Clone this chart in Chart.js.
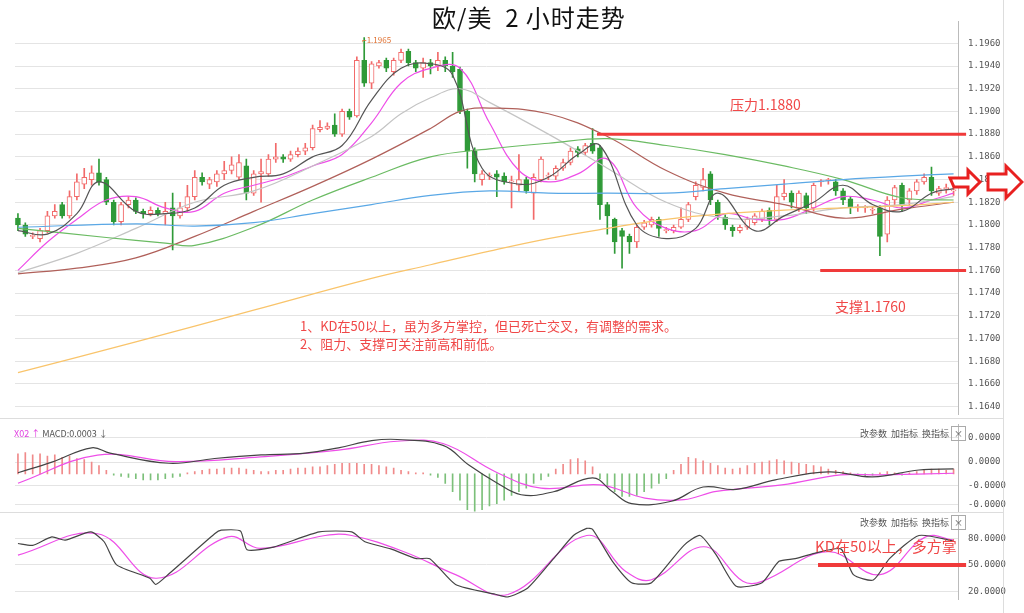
<!DOCTYPE html>
<html><head><meta charset="utf-8">
<script src="https://cdn.jsdelivr.net/npm/chart.js@4.4.1/dist/chart.umd.min.js"></script>
<style>
body{margin:0;background:#fff;width:1024px;height:613px;overflow:hidden;position:relative;font-family:"Noto Sans CJK SC","Noto Sans",sans-serif}
canvas{position:absolute;left:0}
.t{position:absolute;white-space:nowrap}
.red{color:#f04848}
.hd{position:absolute;font-size:9px;color:#555}
</style></head><body>
<canvas id="main" style="top:6px" width="1024" height="424"></canvas>
<canvas id="macd" style="top:409px" width="1024" height="118"></canvas>
<canvas id="kd" style="top:500px" width="1024" height="115"></canvas>
<div style="position:absolute;left:0;top:418px;width:1003px;border-top:1px solid #ddd"></div>
<div style="position:absolute;left:0;top:512px;width:1003px;border-top:1px solid #ddd"></div>
<div style="position:absolute;left:1003px;top:0;height:613px;border-left:1px solid #ddd"></div>
<div class="t" style="left:432px;top:-1px;font-size:24px;color:#111;letter-spacing:1px">欧/美&nbsp;&nbsp;2 小时走势</div>
<div class="t" style="left:362px;top:34px;font-size:8px;color:#e07030">⌐1.1965</div>
<div class="t red" style="left:730px;top:94px;font-size:14px">压力1.1880</div>
<div class="t red" style="left:835px;top:296px;font-size:14px">支撑1.1760</div>
<div class="t red" style="left:300px;top:316px;font-size:13px">1、KD在50以上，虽为多方掌控，但已死亡交叉，有调整的需求。</div>
<div class="t red" style="left:300px;top:334px;font-size:13px">2、阻力、支撑可关注前高和前低。</div>
<div class="t red" style="left:815px;top:535px;font-size:15px">KD在50以上，多方掌</div>
<div class="hd" style="left:14px;top:427px"><span style="color:#e040e0">X02 ↑</span> MACD:0.0003 ↓</div>
<div class="hd" style="left:860px;top:427px">改参数 &nbsp;加指标 &nbsp;换指标 <span style="border:1px solid #aaa;padding:0 2px">×</span></div>
<div class="hd" style="left:860px;top:516px">改参数 &nbsp;加指标 &nbsp;换指标 <span style="border:1px solid #aaa;padding:0 2px">×</span></div>
<svg style="position:absolute;left:948px;top:162px" width="76" height="40">
<polygon points="2,16 20,16 20,8 32,20 20,32 20,25 6,25" fill="#fff" stroke="#e82020" stroke-width="3"/>
<polygon points="40,12 58,12 58,4 74,20 58,36 58,28 40,28" fill="#fff" stroke="#e82020" stroke-width="3"/>
</svg>
<script>
// ---- candle data (index 0..127) ----
const open_ = [1.1806,1.1800,1.1790,1.1788,1.1795,1.1808,1.1818,1.1808,1.1825,1.1836,1.1840,1.1846,1.1840,1.1820,1.1803,1.1818,1.1822,1.1812,1.1810,1.1813,1.1810,1.1815,1.1808,1.1815,1.1825,1.1842,1.1836,1.1838,1.1845,1.1848,1.1842,1.1852,1.1828,1.1845,1.1845,1.1858,1.1860,1.1858,1.1862,1.1865,1.1868,1.1884,1.1885,1.1888,1.1880,1.1900,1.1896,1.1945,1.1925,1.1940,1.1945,1.1935,1.1945,1.1953,1.1943,1.1938,1.1943,1.1940,1.1945,1.1940,1.1937,1.1900,1.1865,1.1840,1.1843,1.1845,1.1843,1.1838,1.1835,1.1840,1.1828,1.1840,1.1843,1.1843,1.1850,1.1855,1.1867,1.1864,1.1872,1.1868,1.1818,1.1805,1.1795,1.1790,1.1785,1.1798,1.1800,1.1805,1.1795,1.1795,1.1798,1.1805,1.1825,1.1833,1.1845,1.1820,1.1807,1.1798,1.1795,1.1798,1.1802,1.1805,1.1813,1.1805,1.1825,1.1828,1.1815,1.1826,1.1815,1.1838,1.1839,1.1838,1.1830,1.1823,1.1815,1.1815,1.1813,1.1815,1.1792,1.1822,1.1835,1.1822,1.1830,1.1838,1.1842,1.1828,1.1832,1.1830];
const close_ = [1.1800,1.1792,1.1790,1.1795,1.1808,1.1812,1.1808,1.1825,1.1838,1.1842,1.1846,1.1838,1.1820,1.1803,1.1818,1.1822,1.1812,1.1810,1.1813,1.1810,1.1812,1.1808,1.1815,1.1825,1.1842,1.1838,1.1840,1.1845,1.1848,1.1853,1.1855,1.1828,1.1845,1.1847,1.1858,1.1860,1.1858,1.1862,1.1865,1.1868,1.1885,1.1886,1.1887,1.1880,1.1900,1.1895,1.1945,1.1925,1.1942,1.1943,1.1938,1.1945,1.1952,1.1943,1.1938,1.1943,1.1940,1.1945,1.1940,1.1935,1.1900,1.1865,1.1845,1.1845,1.1843,1.1842,1.1838,1.1838,1.1840,1.1830,1.1842,1.1858,1.1843,1.1850,1.1855,1.1865,1.1864,1.1870,1.1865,1.1818,1.1808,1.1785,1.1790,1.1785,1.1798,1.1802,1.1805,1.1797,1.1795,1.1798,1.1805,1.1818,1.1835,1.1840,1.1822,1.1808,1.1800,1.1795,1.1798,1.1805,1.1808,1.1812,1.1805,1.1825,1.1828,1.1820,1.1828,1.1815,1.1835,1.1838,1.1839,1.1830,1.1822,1.1816,1.1815,1.1815,1.1813,1.1790,1.1822,1.1833,1.1818,1.1830,1.1838,1.1842,1.1830,1.1832,1.1832,1.1830];
const high_ = [1.1810,1.1802,1.1793,1.1797,1.1812,1.1818,1.1820,1.1830,1.1845,1.1850,1.1852,1.1858,1.1842,1.1822,1.1820,1.1825,1.1824,1.1814,1.1816,1.1815,1.1820,1.1828,1.1820,1.1835,1.1848,1.1846,1.1842,1.1848,1.1856,1.1860,1.1862,1.1858,1.1848,1.1858,1.1862,1.1872,1.1862,1.1865,1.1868,1.1872,1.1888,1.1892,1.1890,1.1898,1.1902,1.1902,1.1948,1.1965,1.1944,1.1945,1.1947,1.1947,1.1955,1.1955,1.1945,1.1947,1.1946,1.1952,1.1948,1.1952,1.1939,1.1902,1.1868,1.1848,1.1846,1.1848,1.1846,1.1843,1.1862,1.1842,1.1845,1.1860,1.1846,1.1852,1.1858,1.1868,1.1869,1.1872,1.1885,1.1870,1.1820,1.1806,1.1797,1.1792,1.1800,1.1804,1.1807,1.1807,1.1798,1.1800,1.1815,1.1820,1.1838,1.1850,1.1847,1.1822,1.1809,1.1800,1.1800,1.1807,1.1810,1.1814,1.1815,1.1835,1.1840,1.1830,1.1830,1.1828,1.1837,1.1840,1.1841,1.1840,1.1832,1.1825,1.1818,1.1817,1.1816,1.1817,1.1825,1.1835,1.1837,1.1832,1.1840,1.1845,1.1851,1.1834,1.1836,1.1834];
const low_ = [1.1795,1.1790,1.1788,1.1785,1.1793,1.1806,1.1806,1.1806,1.1822,1.1832,1.1835,1.1835,1.1818,1.1800,1.1800,1.1815,1.1810,1.1806,1.1808,1.1808,1.1800,1.1778,1.1806,1.1812,1.1822,1.1835,1.1832,1.1834,1.1840,1.1845,1.1840,1.1822,1.1826,1.1820,1.1843,1.1855,1.1855,1.1856,1.1860,1.1862,1.1866,1.1882,1.1884,1.1878,1.1878,1.1893,1.1895,1.1922,1.1920,1.1938,1.1935,1.1932,1.1943,1.1940,1.1935,1.1930,1.1933,1.1936,1.1935,1.1930,1.1898,1.1850,1.1838,1.1835,1.1840,1.1825,1.1836,1.1815,1.1830,1.1828,1.1805,1.1838,1.1840,1.1840,1.1848,1.1853,1.1860,1.1862,1.1863,1.1805,1.1792,1.1775,1.1762,1.1775,1.1780,1.1796,1.1798,1.1790,1.1793,1.1793,1.1797,1.1803,1.1822,1.1830,1.1818,1.1805,1.1796,1.1790,1.1793,1.1796,1.1800,1.1803,1.1800,1.1803,1.1822,1.1815,1.1812,1.1810,1.1812,1.1834,1.1836,1.1826,1.1818,1.1810,1.1812,1.1811,1.1810,1.1773,1.1785,1.1818,1.1812,1.1818,1.1827,1.1836,1.1826,1.1826,1.1828,1.1826];
// ---- moving averages (knot index / value) ----
const ma5X = [0,4,8,11,16,20,24,28,32,36,40,44,48,52,56,59,63,68,72,76,79,84,88,92,95,100,104,108,112,116,120,124,127];
const ma5Y = [1.1795,1.1792,1.1810,1.1838,1.1812,1.1810,1.1815,1.1835,1.1842,1.1845,1.1860,1.1870,1.1910,1.1938,1.1942,1.1932,1.1850,1.1836,1.1842,1.1862,1.1870,1.1800,1.1788,1.1797,1.1828,1.1795,1.1808,1.1820,1.1835,1.1818,1.1812,1.1828,1.1832];
const ma10X = [0,4,8,12,16,20,24,28,32,36,40,44,48,52,56,60,64,68,72,76,80,84,88,92,96,100,104,108,112,116,120,124,127];
const ma10Y = [1.1760,1.1785,1.1805,1.1822,1.1825,1.1815,1.1812,1.1828,1.1835,1.1842,1.1852,1.1862,1.1890,1.1925,1.1938,1.1938,1.1890,1.1848,1.1838,1.1845,1.1858,1.1815,1.1797,1.1795,1.1810,1.1805,1.1805,1.1815,1.1825,1.1822,1.1815,1.1822,1.1828];
const ma20X = [0,8,16,24,32,40,48,52,56,60,64,72,80,88,96,104,112,120,127];
const ma20Y = [1.1758,1.1775,1.1797,1.1820,1.1830,1.1852,1.1878,1.1898,1.1912,1.1920,1.1908,1.1880,1.1850,1.1820,1.1806,1.1808,1.1815,1.1818,1.1825];
const ma30X = [0,8,16,24,32,40,48,56,60,64,72,80,88,96,104,112,120,127];
const ma30Y = [1.1757,1.1762,1.1771,1.1790,1.1812,1.1834,1.1858,1.1885,1.1900,1.1903,1.1898,1.1878,1.1848,1.1828,1.1818,1.1806,1.1814,1.1820];
const ma60X = [0,12,20,24,32,40,48,56,64,72,80,88,96,104,112,120,127];
const ma60Y = [1.1797,1.1789,1.1784,1.1782,1.1798,1.1822,1.1842,1.1860,1.1867,1.1872,1.1876,1.1870,1.1862,1.1852,1.1840,1.1824,1.1822];
const ma120X = [0,16,24,32,40,48,56,64,72,80,88,96,104,112,120,127];
const ma120Y = [1.1798,1.1801,1.1799,1.1802,1.1810,1.1818,1.1826,1.1830,1.1828,1.1828,1.1828,1.1832,1.1836,1.1840,1.1843,1.1845];
const ma250X = [0,16,32,48,56,64,72,80,88,96,104,112,120,127];
const ma250Y = [1.1670,1.1697,1.1725,1.1753,1.1765,1.1777,1.1788,1.1797,1.1805,1.1810,1.1813,1.1815,1.1817,1.1820];
const priceTicks = [1.1640,1.1660,1.1680,1.1700,1.1720,1.1740,1.1760,1.1780,1.1800,1.1820,1.1840,1.1860,1.1880,1.1900,1.1920,1.1940,1.1960];
const resistance = 1.1880, support = 1.1760;
// ---- MACD (x1e-4) ----
const macdHist = [17,18,16,17,15,16,14,15,13,12,10,7,3,-1,-2,-3,-4,-5,-5,-5,-4,-3,-2,1,2,3,4,4,5,5,5,4,3,2,2,3,3,4,5,5,6,6,7,8,9,9,9,8,8,7,6,5,3,2,1,1,-1,-3,-8,-15,-22,-30,-33,-30,-27,-25,-22,-18,-15,-12,-8,-5,-2,4,8,12,13,11,6,-4,-10,-15,-19,-19,-18,-15,-12,-8,-4,3,8,14,13,11,9,7,5,4,5,7,9,10,11,12,11,10,9,8,7,6,4,3,2,1,-1,-2,-1,1,2,1,-1,1,2,3,4,4,3,4];
const difX = [0,4.6,10,12.5,20.5,26.7,33,39,43.5,48,51.5,57.7,61.2,64.8,68.3,72.7,78,80.7,83.3,88.7,93,97.5,102.8,110,116,122.3,127];
const difY = [1,10,22,17.5,9,13,16,17.5,22,28,29,24,7.5,-6.7,-17.5,-15,-3.3,-15,-25,-23,-11,-13,-5,1.7,-2.5,3.3,4.2];
const deaX = [0,10.8,21.4,32.9,43.5,51.5,57.7,64.8,71,79,85.1,90.4,94.8,103.7,111.7,117,127];
const deaY = [-7.8,15.8,10.3,14.4,20,27.5,25.6,1.9,-11.9,-9.2,-20.3,-21.7,-14.7,-9.2,-0.8,-0.8,0.6];
const macdTickVals = [30.8,10,-10,-25.8];
const macdTickLabels = ["0.0000","0.0000","-0.0000","-0.0000"];
// ---- KD ----
const kX = [0,2,4.6,6.4,9.9,11.7,13.4,17.9,18.7,20.5,26.7,27.6,30.2,31.1,34.7,40.9,45.3,47.1,50.6,54.1,55.9,59.4,64.8,66.5,69.2,72.7,75.4,77.2,78,80.7,83.3,86,90.4,92.6,94.8,97.5,101,103.3,105.5,108.1,111.7,113.4,116.1,118.3,122.3,127];
const kY = [74,72,81.5,77.8,87,76,50,35,28,40,85,89,88,67,70,87,87,76,68,57,57,28,17,14,24,57,83,91,90,54,30,30,72,83,61,26,30,54,57,63,68,39,33,57,83,77];
const dX = [0,10.8,18.7,28.5,32.9,41.7,45.3,52.4,59.4,66.5,77.2,82.5,86,93.1,98.4,101,109.9,117,123.2,127];
const dY = [61,85,35,81.5,68.5,83,83,64.8,39,16.7,83,42.6,33.3,70.4,31.5,31.5,64.8,39,81.5,77.8];
const kdTicks = [20,50,80];
const kdLineLevel = 50;

const UP='#f26a6a', DN='#2f9a38';
const XMIN=-0.4, XMAX=127.6;
const pts=(xs,ys)=>xs.map((x,i)=>({x,y:ys[i]}));
const line=(data,color,w=1,extra={})=>Object.assign({type:'line',data,borderColor:color,borderWidth:w,pointRadius:0,tension:0.4,fill:false,order:1},extra);
const up=close_.map((c,i)=>c>=open_[i]);
const yAxisBase={position:'right',border:{display:true,color:'#bbb'},grid:{color:'#e4e4e4',borderDash:[2,2],drawTicks:false},
  ticks:{color:'#555',font:{size:9,family:'DejaVu Sans Mono'},padding:10},afterFit(s){s.width=66;}};
const xAxis={type:'linear',min:XMIN,max:XMAX,offset:false,display:false};
const common={responsive:false,animation:false,layout:{padding:{left:15,top:0,bottom:0,right:0}},plugins:{legend:{display:false},tooltip:{enabled:false}}};

new Chart(document.getElementById('main'),{type:'bar',data:{datasets:[
  {data:close_.map((c,i)=>({x:i,y:[low_[i],high_[i]]})),backgroundColor:up.map(u=>u?UP:DN),barThickness:1,grouped:false,order:3,minBarLength:1},
  {data:close_.map((c,i)=>({x:i,y:[open_[i],c]})),backgroundColor:up.map(u=>u?'#fff':DN),borderColor:up.map(u=>u?UP:DN),borderWidth:1,borderSkipped:false,barThickness:5,grouped:false,order:2,minBarLength:1},
  line(pts(ma250X,ma250Y),'#f9c46b',1.2),
  line(pts(ma120X,ma120Y),'#5aa8e6',1.2),
  line(pts(ma60X,ma60Y),'#6bbb63',1.2),
  line(pts(ma30X,ma30Y),'#b0605a',1.2),
  line(pts(ma20X,ma20Y),'#c4c4c4',1.2),
  line(pts(ma10X,ma10Y),'#ee4ee8',1.2),
  line(pts(ma5X,ma5Y),'#555',1.2,{order:0}),
  line([{x:78.6,y:resistance},{x:128.7,y:resistance}],'#f03a3a',3,{tension:0,clip:false,order:0}),
  line([{x:108.9,y:support},{x:128.7,y:support}],'#f03a3a',3,{tension:0,clip:false,order:0})
]},options:Object.assign({},common,{scales:{x:xAxis,
  y:Object.assign({},yAxisBase,{min:1.16330,max:1.19793,afterBuildTicks(s){s.ticks=priceTicks.map(v=>({value:v}));},
    ticks:Object.assign({},yAxisBase.ticks,{callback:v=>v.toFixed(4)})})}})});

new Chart(document.getElementById('macd'),{type:'bar',data:{datasets:[
  {data:macdHist.map((h,i)=>({x:i,y:h})),backgroundColor:macdHist.map(h=>h>=0?'#f08a8a':'#7cc07a'),barThickness:1,grouped:false,order:2},
  line(pts(difX,difY),'#444',1.2),
  line(pts(deaX,deaY),'#ee4ee8',1.2)
]},options:Object.assign({},common,{scales:{x:xAxis,
  y:Object.assign({},yAxisBase,{min:-31.7,max:41.7,afterBuildTicks(s){s.ticks=macdTickVals.map(v=>({value:v}));},
    ticks:Object.assign({},yAxisBase.ticks,{callback:(v,i)=>macdTickLabels[i]})})}})});

new Chart(document.getElementById('kd'),{type:'line',data:{datasets:[
  line(pts(kX,kY),'#444',1.2,{tension:0.2}),
  line(pts(dX,dY),'#ee4ee8',1.2),
  line([{x:108.6,y:kdLineLevel},{x:128.7,y:kdLineLevel}],'#f03a3a',4,{tension:0,clip:false,order:0})
]},options:Object.assign({},common,{scales:{x:xAxis,
  y:Object.assign({},yAxisBase,{min:11,max:105.6,afterBuildTicks(s){s.ticks=kdTicks.map(v=>({value:v}));},
    ticks:Object.assign({},yAxisBase.ticks,{callback:v=>v.toFixed(4)})})}})});
</script>
</body></html>
